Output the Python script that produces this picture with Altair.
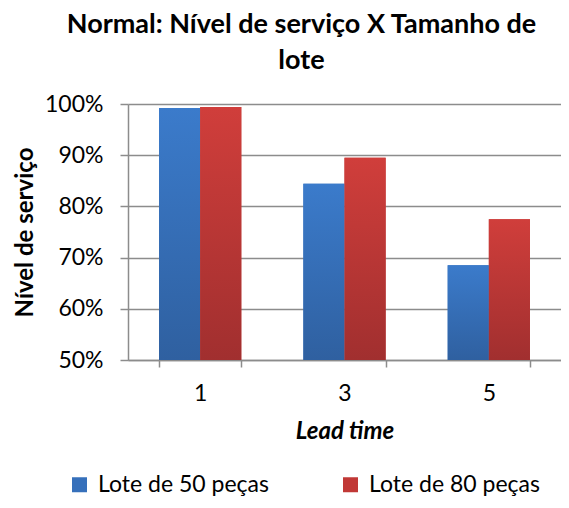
import altair as alt
import pandas as pd

lead_times = ["1", "3", "5"]
lote_50 = [0.992, 0.844, 0.685]
lote_80 = [0.994, 0.895, 0.775]
series_names = ["Lote de 50 peças", "Lote de 80 peças"]
y_ticks = [0.5, 0.6, 0.7, 0.8, 0.9, 1.0]
y_base = 0.5

rows = []
for i, lt in enumerate(lead_times):
    rows.append({"lead": lt, "serie": series_names[0], "valor": lote_50[i]})
    rows.append({"lead": lt, "serie": series_names[1], "valor": lote_80[i]})
df = pd.DataFrame(rows)

FONT = "Lato"
blue_flat = "#3670bb"
red_flat = "#c13836"

blue_grad = alt.Gradient(
    gradient="linear", x1=0, x2=0, y1=0, y2=1,
    stops=[alt.GradientStop(color="#3b7bcb", offset=0),
           alt.GradientStop(color="#2f60a0", offset=1)],
)
red_grad = alt.Gradient(
    gradient="linear", x1=0, x2=0, y1=0, y2=1,
    stops=[alt.GradientStop(color="#d03e3b", offset=0),
           alt.GradientStop(color="#a12f2f", offset=1)],
)

x_enc = alt.X(
    "lead:N", sort=lead_times,
    scale=alt.Scale(paddingInner=0.43, paddingOuter=0.215),
    axis=alt.Axis(
        title="Lead time", titleFont=FONT, titleFontSize=24, titleFontWeight="bold",
        titleFontStyle="italic", titleColor="#000", titlePadding=14,
        labelFont=FONT, labelFontSize=23, labelColor="#000", labelAngle=0, labelPadding=15,
        tickBand="extent", tickSize=7, tickColor="#8c8c8c", tickWidth=1.5,
        domainColor="#8c8c8c", domainWidth=1.5, grid=False,
    ),
)
y_enc = alt.Y(
    "valor:Q",
    scale=alt.Scale(domain=[0.5, 1.0], nice=False, zero=False),
    axis=alt.Axis(
        values=y_ticks, format=".0%",
        title="Nível de serviço", titleFont=FONT, titleFontSize=24, titleFontWeight="bold",
        titleColor="#000", titlePadding=7,
        labelFont=FONT, labelFontSize=23, labelColor="#000", labelPadding=17,
        tickSize=8, tickColor="#8c8c8c", tickWidth=1.5,
        domainColor="#8c8c8c", domainWidth=1.5,
        grid=True, gridColor="#8c8c8c", gridWidth=1.5,
    ),
)

base = alt.Chart(df).encode(
    x=x_enc,
    y=y_enc,
    y2=alt.datum(y_base),
    xOffset=alt.XOffset("serie:N", sort=series_names),
)

bars_legend = base.mark_bar().encode(
    color=alt.Color(
        "serie:N",
        scale=alt.Scale(domain=series_names, range=[blue_flat, red_flat]),
        legend=alt.Legend(
            title=None, orient="none", direction="horizontal",
            legendX=-60, legendY=369, padding=0,
            symbolType="square", symbolSize=225, symbolStrokeWidth=0,
            labelFont=FONT, labelFontSize=23, labelColor="#000", labelOffset=7,
            columnPadding=70, labelLimit=400,
        ),
    )
)

bars_grad = base.mark_bar().encode(
    color=alt.condition(
        alt.datum.serie == series_names[0],
        alt.value(blue_grad),
        alt.value(red_grad),
    )
)

chart = alt.layer(bars_legend, bars_grad).properties(
    width=433,
    height=256,
    title=alt.TitleParams(
        text=["Normal: Nível de serviço X Tamanho de", "lote"],
        font=FONT, fontSize=27, fontWeight="bold", color="#000",
        anchor="middle", dx=-43, lineHeight=36, offset=18,
    ),
    autosize=alt.AutoSizeParams(type="none"),
    padding={"left": 120, "top": 96, "right": 0, "bottom": 136},
).configure_view(stroke=None)

chart.save("out.html", embed_options={"renderer": "svg", "actions": False})
